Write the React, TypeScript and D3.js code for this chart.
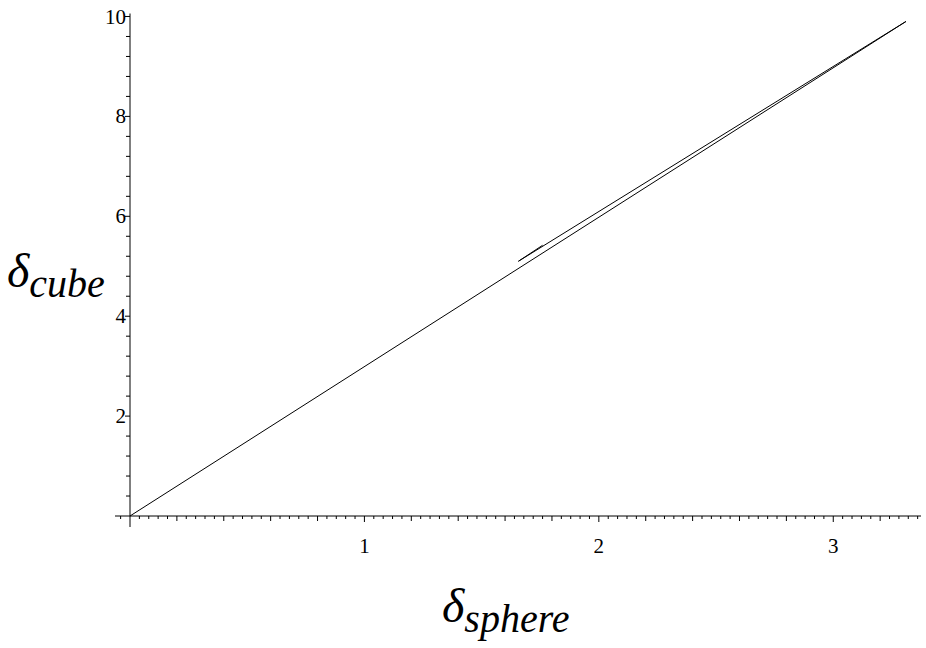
import React from 'react';
import * as d3 from 'd3';

const mainX = [0, 3.31];
const mainY = [0, 9.9];
const branchX = [3.31, 1.657, 1.76];
const branchY = [9.9, 5.1, 5.42];
const xLabels = [1, 2, 3];
const yLabels = [2, 4, 6, 8, 10];

const W = 926;
const H = 648;

const App = () => {
  const x = d3.scaleLinear().domain([0, 3.37]).range([130, 920]);
  const y = d3.scaleLinear().domain([0, 10]).range([516, 16.5]);

  const line = d3.line<[number, number]>()
    .x(d => x(d[0]))
    .y(d => y(d[1]));

  const mainPts = mainX.map((v, i) => [v, mainY[i]] as [number, number]);
  const branchPts = branchX.map((v, i) => [v, branchY[i]] as [number, number]);

  // tick positions
  const xTicks = d3.range(-1, 85).map(i => i * 0.04);
  const yTicks = d3.range(1, 26).map(i => i * 0.4);
  const near = (a: number, b: number) => Math.abs(a - Math.round(a / b) * b) < 1e-6;

  const font = 'Liberation Serif, Tinos, DejaVu Serif, serif';

  return (
    <svg width={W} height={H} style={{ position: 'absolute', left: 0, top: 0, background: '#fff' }}>
      {/* axes */}
      <line x1={115} x2={921} y1={y(0)} y2={y(0)} stroke="#000" strokeWidth={1} />
      <line x1={x(0)} x2={x(0)} y1={13.5} y2={527} stroke="#000" strokeWidth={1} />

      {xTicks.filter(t => Math.abs(t) > 1e-6).map((t, i) => {
        const len = near(t, 1) ? 6 : near(t, 0.2) ? 5 : 3;
        return (
          <line key={'xt' + i} x1={x(t)} x2={x(t)} y1={y(0)} y2={y(0) + len} stroke="#000" strokeWidth={1} />
        );
      })}
      {yTicks.map((t, i) => {
        const len = near(t, 2) ? 5 : 4;
        return (
          <line key={'yt' + i} x1={x(0) - len} x2={x(0)} y1={y(t)} y2={y(t)} stroke="#000" strokeWidth={1} />
        );
      })}

      {xLabels.map(v => (
        <text key={'xl' + v} x={x(v)} y={553} textAnchor="middle" style={{ fontFamily: font, fontSize: 21 }}>
          {v}
        </text>
      ))}
      {yLabels.map(v => (
        <text key={'yl' + v} x={126} y={y(v) + 7} textAnchor="end" style={{ fontFamily: font, fontSize: 21 }}>
          {v}
        </text>
      ))}

      {/* curves */}
      <path d={line(mainPts) ?? ''} fill="none" stroke="#000" strokeWidth={1} />
      <path d={line(branchPts) ?? ''} fill="none" stroke="#000" strokeWidth={1} />

      {/* axis titles */}
      <text x={7} y={287} style={{ fontFamily: font, fontStyle: 'italic', fontSize: 48 }}>
        δ<tspan style={{ fontSize: 40 }} dy={10}>cube</tspan>
      </text>
      <text x={442} y={622} style={{ fontFamily: font, fontStyle: 'italic', fontSize: 48 }}>
        δ<tspan style={{ fontSize: 40 }} dy={10}>sphere</tspan>
      </text>
    </svg>
  );
};

export default App;
